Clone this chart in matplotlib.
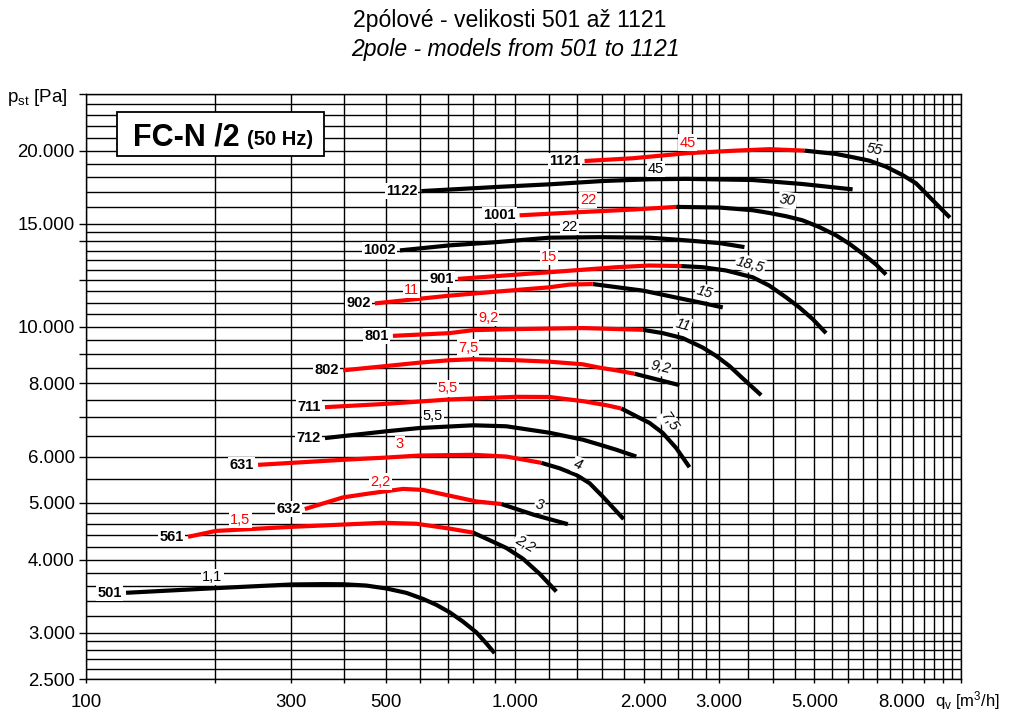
import numpy as np
import matplotlib
matplotlib.use('Agg')
import matplotlib.pyplot as plt
from matplotlib.patches import Rectangle
from matplotlib.ticker import FixedLocator, FixedFormatter, NullFormatter

plt.rcParams['font.family'] = ['Liberation Sans', 'DejaVu Sans']
plt.rcParams['mathtext.fontset'] = 'custom'
plt.rcParams['mathtext.rm'] = 'Liberation Sans'
plt.rcParams['mathtext.it'] = 'Liberation Sans:italic'
plt.rcParams['mathtext.bf'] = 'Liberation Sans:bold'

# ---------------- data (q [m3/h], p_st [Pa]) ----------------
Q501 = [124, 201, 302, 360, 398, 450, 502, 559, 611, 657, 705, 758, 814, 859, 898]
P501 = [3510, 3575, 3627, 3632, 3630, 3612, 3570, 3509, 3427, 3347, 3251, 3133, 3004, 2876, 2768]

Q561 = [173, 201, 302, 493, 590, 705, 800, 874, 956, 1045, 1144, 1251]
P561 = [4375, 4478, 4550, 4624, 4606, 4519, 4448, 4318, 4188, 4015, 3782, 3528]

Q632 = [324, 398, 459, 549, 611, 705, 814, 931, 1113, 1331]
P632 = [4881, 5110, 5190, 5283, 5262, 5144, 5029, 4978, 4767, 4598]

Q631 = [252, 398, 502, 600, 800, 956, 1154, 1273, 1393, 1496, 1606, 1796]
P631 = [5808, 5924, 5977, 6025, 6042, 6001, 5854, 5730, 5582, 5402, 5125, 4690]

Q712 = [361, 502, 600, 800, 956, 1206, 1443, 1578, 1726, 1922]
P712 = [6453, 6628, 6714, 6786, 6760, 6590, 6412, 6289, 6164, 6001]

Q711 = [361, 502, 705, 800, 1009, 1206, 1443, 1636, 1773, 1922, 2064, 2216, 2382, 2558]
P711 = [7288, 7384, 7513, 7542, 7591, 7586, 7462, 7345, 7251, 7033, 6850, 6584, 6205, 5754]

Q802 = [398, 502, 600, 705, 800, 1009, 1206, 1443, 1578, 1726, 1905, 2424]
P802 = [8425, 8570, 8684, 8767, 8802, 8767, 8717, 8627, 8513, 8425, 8313, 7948]

Q801 = [520, 705, 800, 1009, 1443, 1991, 2216, 2468, 2748, 2953, 3171, 3406, 3759]
P801 = [9650, 9754, 9870, 9910, 9950, 9882, 9754, 9563, 9214, 8916, 8570, 8161, 7641]

Q902 = [472, 705, 907, 1206, 1344, 1522, 1991, 2699, 3059]
P902 = [10965, 11305, 11484, 11683, 11808, 11832, 11531, 11008, 10793]

Q901 = [737, 1206, 1727, 2064, 2446, 2748, 3115, 3594, 3929, 4299, 4616, 4958, 5329]
P901 = [12075, 12396, 12643, 12728, 12700, 12643, 12480, 12151, 11758, 11228, 10793, 10309, 9754]

Q1002 = [540, 705, 907, 1206, 1578, 2064, 2513, 3006, 3437]
P1002 = [13508, 13778, 13955, 14202, 14230, 14202, 14052, 13902, 13685]

Q1001 = [1027, 1443, 1887, 2382, 3006, 3594, 3929, 4299, 4699, 5140, 5622, 6037, 6485, 6968, 7353]
P1001 = [15509, 15714, 15863, 16030, 15990, 15822, 15652, 15453, 15205, 14806, 14333, 13868, 13334, 12781, 12283]

Q1122 = [606, 923, 1206, 1606, 2064, 2513, 3594, 4699, 6145]
P1122 = [17060, 17350, 17520, 17750, 17870, 17900, 17820, 17540, 17175]

Q1121 = [1456, 1887, 2513, 3287, 3929, 4742, 5622, 6145, 6722, 7353, 8037, 8638, 9115, 9699, 10366]
P1121 = [19205, 19413, 19800, 20007, 20118, 20007, 19745, 19497, 19230, 18779, 18170, 17590, 16904, 16140, 15370]

# model name, q, p, index of last point of the red part (0 = no red part)
curves = [
    ('501', Q501, P501, 0),
    ('561', Q561, P561, 6),
    ('632', Q632, P632, 7),
    ('631', Q631, P631, 6),
    ('712', Q712, P712, 0),
    ('711', Q711, P711, 8),
    ('802', Q802, P802, 10),
    ('801', Q801, P801, 5),
    ('902', Q902, P902, 5),
    ('901', Q901, P901, 4),
    ('1002', Q1002, P1002, 0),
    ('1001', Q1001, P1001, 3),
    ('1122', Q1122, P1122, 0),
    ('1121', Q1121, P1121, 5),
]

# motor power labels: text, q, p, colour, italic, rotation
power_labels = [
    ('1,1', 197, 3735, 'black', False, 0),
    ('1,5', 229, 4677, 'red', False, 0),
    ('2,2', 1055, 4259, 'black', True, -30),
    ('2,2', 486, 5438, 'red', False, 0),
    ('3', 1144, 4958, 'black', True, -12),
    ('3', 540, 6302, 'red', False, 0),
    ('4', 1405, 5808, 'black', True, -20),
    ('5,5', 645, 7033, 'black', False, 0),
    ('5,5', 699, 7846, 'red', False, 0),
    ('7,5', 2298, 6876, 'black', True, -55),
    ('7,5', 778, 9214, 'red', False, 0),
    ('9,2', 2186, 8513, 'black', True, -12),
    ('9,2', 867, 10350, 'red', False, 0),
    ('11', 2468, 10080, 'black', True, -15),
    ('11', 574, 11565, 'red', False, 0),
    ('15', 2773, 11454, 'black', True, -15),
    ('15', 1202, 13155, 'red', False, 0),
    ('18,5', 3549, 12780, 'black', True, -15),
    ('22', 1344, 14813, 'black', False, 0),
    ('22', 1483, 16461, 'red', False, 0),
    ('30', 4337, 16461, 'black', True, -8),
    ('45', 2139, 18590, 'black', False, 0),
    ('45', 2535, 20650, 'red', False, 0),
    ('55', 6906, 20118, 'black', True, -10),
]

x_label_vals = [100, 300, 500, 1000, 2000, 3000, 5000, 8000]
y_label_vals = [2500, 3000, 4000, 5000, 6000, 8000, 10000, 15000, 20000]

def fmt(v):
    return f"{v:,.0f}".replace(',', '.')

# ---------------- figure ----------------
W, H = 1017, 725
fig = plt.figure(figsize=(W / 100, H / 100), dpi=100)
L, R, T, B = 86, 961, 94, 679
ax = fig.add_axes([L / W, 1 - B / H, (R - L) / W, (B - T) / H])
ax.set_xscale('log')
ax.set_yscale('log')
ax.set_xlim(100, 11000)
ax.set_ylim(2500, 25000)

# grid
x_grid = np.concatenate([np.arange(100, 1000, 100), np.arange(1000, 3000, 200),
                         np.arange(3000, 11001, 500)])
y_grid = np.concatenate([np.arange(2500, 3000, 100), np.arange(3000, 5000, 200),
                         np.arange(5000, 15000, 500), np.arange(15000, 25001, 1000)])
x_major = list(range(100, 1001, 100)) + list(range(2000, 11001, 1000))
y_major = y_label_vals + [7000, 9000, 12000, 14000, 25000]

ax.xaxis.set_major_locator(FixedLocator(x_major))
ax.xaxis.set_major_formatter(FixedFormatter([fmt(v) if v in x_label_vals else '' for v in x_major]))
ax.xaxis.set_minor_locator(FixedLocator(x_grid))
ax.xaxis.set_minor_formatter(NullFormatter())
ax.yaxis.set_major_locator(FixedLocator(y_major))
ax.yaxis.set_major_formatter(FixedFormatter([fmt(v) if v in y_label_vals else '' for v in y_major]))
ax.yaxis.set_minor_locator(FixedLocator(y_grid))
ax.yaxis.set_minor_formatter(NullFormatter())

ax.grid(which='both', color='black', linewidth=1.0, zorder=0)
ax.set_axisbelow(True)
ax.tick_params(which='minor', length=0)
ax.tick_params(axis='y', which='major', length=5, width=1, pad=3, labelsize=13.4)
ax.tick_params(axis='x', which='major', length=3, width=1, pad=8, labelsize=13.4)
for s in ax.spines.values():
    s.set_linewidth(1.0)

bb = dict(boxstyle='square,pad=0.08', fc='white', ec='none')

# curves
for name, q, p, k in curves:
    if k > 0:
        ax.plot(q[:k + 1], p[:k + 1], color='#ff0000', lw=3.0,
                solid_capstyle='butt', solid_joinstyle='round', zorder=3)
    ax.plot(q[k:], p[k:], color='black', lw=3.0,
            solid_capstyle='butt', solid_joinstyle='round', zorder=2.9)
    ax.annotate(name, xy=(q[0], p[0]), xytext=(-3, 0), textcoords='offset points',
                ha='right', va='center', fontsize=10.5, fontweight='bold',
                bbox=bb, zorder=4)

for s, q, p, c, it, rot in power_labels:
    ax.text(q, p, s, color='#ff0000' if c == 'red' else 'black', fontsize=10.5,
            style='italic' if it else 'normal', rotation=rot, rotation_mode='anchor',
            ha='center', va='center', bbox=bb, zorder=4)

# axis titles
fig.text(7 / W, 1 - 97 / H, r'p$_\mathrm{st}$ [Pa]', fontsize=13.5, ha='left', va='center')
fig.text(935 / W, 1 - 701 / H, r'q$_\mathrm{v}$ [m$^\mathrm{3}$/h]', fontsize=12, ha='left', va='center')

# titles
fig.text(510 / W, 1 - 21 / H, '2pólové - velikosti 501 až 1121', fontsize=16.6,
         ha='center', va='center')
fig.text(515 / W, 1 - 49.5 / H, '2pole - models from 501 to 1121', fontsize=16.6,
         style='italic', ha='center', va='center')

# FC-N box
fig.add_artist(Rectangle((117 / W, 1 - 156 / H), (324 - 117) / W, (156 - 112) / H,
                         transform=fig.transFigure, fc='white', ec='black', lw=1.3, zorder=5))
fig.text(133 / W, 1 - 145 / H, 'FC-N /2', fontsize=22, fontweight='bold',
         ha='left', va='baseline', zorder=6)
fig.text(247 / W, 1 - 145 / H, '(50 Hz)', fontsize=14.5, fontweight='bold',
         ha='left', va='baseline', zorder=6)

fig.savefig('out.png', dpi=100)
